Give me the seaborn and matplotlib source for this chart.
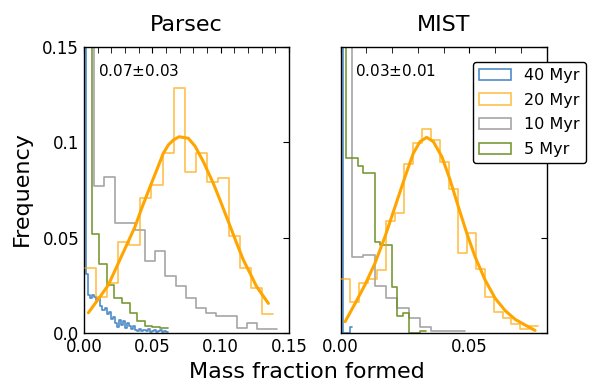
import numpy as np
import pandas as pd
import seaborn as sns
import matplotlib.pyplot as plt
from matplotlib.patches import Patch
from matplotlib.ticker import MultipleLocator

# Parsec histograms (fraction per bin), bin ranges
parsec_40_range = (0.0, 0.0615)
parsec_40 = [0.7225, 0.031, 0.020, 0.018, 0.020, 0.019, 0.017, 0.0185, 0.014, 0.012,
             0.013, 0.010, 0.011, 0.007, 0.008, 0.005, 0.003, 0.0065, 0.004, 0.006,
             0.0025, 0.005, 0.0035, 0.002, 0.0035, 0.0015, 0.001, 0.002, 0.001, 0.0015,
             0.001, 0.002, 0.0005, 0.001, 0.0015, 0.0005, 0.001, 0.0015, 0.0005, 0.001,
             0.0005]
parsec_20_range = (0.0007, 0.1385)
parsec_20 = [0.0338, 0.0189, 0.026, 0.0478, 0.0461, 0.0706, 0.0776, 0.0946, 0.1284,
             0.0846, 0.0946, 0.0794, 0.0811, 0.0508, 0.0338, 0.0233, 0.0098]
parsec_10_range = (0.0, 0.1415)
parsec_10 = [0.466, 0.077, 0.082, 0.0578, 0.0578, 0.054, 0.0378, 0.0429, 0.030, 0.0245,
             0.0184, 0.013, 0.0102, 0.0088, 0.0088, 0.0026, 0.0049, 0.0018, 0.0018]
parsec_5_range = (0.0, 0.0612)
parsec_5 = [0.827, 0.052, 0.036, 0.025, 0.018, 0.0158, 0.0105, 0.0063, 0.0035, 0.003,
            0.0025]
parsec_fit_x = [0.0032, 0.0117, 0.0178, 0.0239, 0.0312, 0.0373, 0.0422, 0.0483, 0.0532,
                0.0580, 0.0617, 0.0654, 0.0695, 0.0763, 0.0812, 0.0873, 0.0946, 0.0995,
                0.1056, 0.1117, 0.1166, 0.1215, 0.1263, 0.1349]
parsec_fit_y = [0.0105, 0.0189, 0.0251, 0.0347, 0.0461, 0.0557, 0.0654, 0.0767, 0.0855,
                0.0943, 0.0987, 0.1013, 0.1030, 0.1022, 0.0981, 0.0899, 0.0785, 0.0697,
                0.0584, 0.0470, 0.0382, 0.0312, 0.0242, 0.0154]

# MIST histograms
mist_40_range = (0.0, 0.0045)
mist_40 = [0.9972, 0.0, 0.0, 0.0, 0.0028]
mist_20_range = (0.0001, 0.0768)
mist_20 = [0.0281, 0.0163, 0.026, 0.0281, 0.033, 0.0587, 0.0627, 0.0887, 0.0995, 0.1069,
           0.1013, 0.0899, 0.0754, 0.042, 0.0526, 0.0333, 0.019, 0.011, 0.0075, 0.0045,
           0.002, 0.0035]
mist_10_range = (0.0, 0.0484)
mist_10 = [0.85, 0.040, 0.041, 0.0245, 0.0181, 0.0128, 0.0076, 0.0028, 0.001, 0.001, 0.001]
mist_5_range = (0.0, 0.033)
mist_5 = [0.3775, 0.0917, 0.0917, 0.0876, 0.0838, 0.0838, 0.0478, 0.046, 0.046, 0.0238,
          0.0088, 0.0105, 0.0, 0.0, 0.001]
mist_fit_x = [0.0017, 0.0056, 0.0094, 0.0133, 0.0172, 0.0211, 0.025, 0.0282, 0.0308,
              0.0334, 0.036, 0.0393, 0.0425, 0.0457, 0.049, 0.0522, 0.0561, 0.06, 0.0639,
              0.0678, 0.0717, 0.0755]
mist_fit_y = [0.0058, 0.0154, 0.0251, 0.0365, 0.0505, 0.0662, 0.082, 0.0943, 0.1004,
              0.1027, 0.1004, 0.0925, 0.0803, 0.0662, 0.0522, 0.0399, 0.0277, 0.0181,
              0.0116, 0.007, 0.004, 0.0012]

labels = ['40 Myr', '20 Myr', '10 Myr', '5 Myr']
colors = ['#2f78c0', 'orange', 'grey', 'olivedrab']
alphas = [0.85, 0.7, 0.7, 0.9]

sns.set_style('white')
plt.rcParams.update({
    'font.family': ['DejaVu Sans'],
    'text.color': 'black', 'axes.labelcolor': 'black',
    'xtick.direction': 'in', 'ytick.direction': 'in',
    'xtick.top': True, 'ytick.right': True,
    'xtick.major.size': 4, 'xtick.minor.size': 4, 'ytick.major.size': 4,
    'xtick.labelsize': 12, 'ytick.labelsize': 12,
    'axes.edgecolor': 'black', 'axes.linewidth': 1.0,
    'xtick.color': 'black', 'ytick.color': 'black',
})


def step_hist(ax, rng, heights, color, alpha, order):
    edges = np.linspace(rng[0], rng[1], len(heights) + 1).tolist()
    centers = [(lo + hi) / 2 for lo, hi in zip(edges[:-1], edges[1:])]
    df = pd.DataFrame({'x': centers, 'w': heights})
    sns.histplot(data=df, x='x', weights='w', bins=edges, stat='count',
                 element='step', fill=False, color=color, alpha=alpha,
                 linewidth=1.2, ax=ax, zorder=order)


fig = plt.figure(figsize=(5.9, 3.85), dpi=100)
ax1 = fig.add_axes([0.1424, 0.1358, 0.3475, 0.7413])
ax2 = fig.add_axes([0.5775, 0.1358, 0.349, 0.7413])

panels = [
    (ax1, [(parsec_40_range, parsec_40), (parsec_20_range, parsec_20),
           (parsec_10_range, parsec_10), (parsec_5_range, parsec_5)],
     parsec_fit_x, parsec_fit_y, 'Parsec', '0.07$\\pm$0.03', 0.15),
    (ax2, [(mist_40_range, mist_40), (mist_20_range, mist_20),
           (mist_10_range, mist_10), (mist_5_range, mist_5)],
     mist_fit_x, mist_fit_y, 'MIST', '0.03$\\pm$0.01', 0.08),
]

zorders = [2, 3, 2, 2]
for ax, hists, fx, fy, title, note, xmax in panels:
    for (rng, h), c, a, z in zip(hists, colors, alphas, zorders):
        step_hist(ax, rng, h, c, a, z)
    sns.lineplot(x=fx, y=fy, color='orange', linewidth=2.2, sort=False,
                 estimator=None, ax=ax, zorder=4)
    ax.set_xlim(0, xmax)
    ax.set_ylim(0, 0.15)
    ax.xaxis.set_major_locator(MultipleLocator(0.05))
    ax.xaxis.set_minor_locator(MultipleLocator(0.01))
    ax.set_yticks([0.0, 0.05, 0.1, 0.15])
    ax.set_xlabel('')
    ax.set_ylabel('')
    ax.set_title(title, fontsize=16, pad=12)
    ax.text(0.07, 0.945, note, transform=ax.transAxes, ha='left', va='top',
            fontsize=11)
    ax.tick_params(which='both', direction='in', top=True, right=True)

ax1.set_yticklabels(['0.0', '0.05', '0.1', '0.15'])
ax2.set_yticklabels([])

handles = [Patch(facecolor='none', edgecolor=c, alpha=a, linewidth=1.2)
           for c, a in zip(colors, alphas)]
leg = ax2.legend(handles, labels, loc='upper left', bbox_to_anchor=(0.641, 0.95),
                 borderaxespad=0, fontsize=11.5, frameon=True, fancybox=True,
                 framealpha=1, edgecolor='black', borderpad=0.4, handlelength=2.0,
                 labelspacing=0.6)
leg.get_frame().set_linewidth(1.0)

fig.text(0.52, 0.033, 'Mass fraction formed', ha='center', va='center', fontsize=16)
fig.text(0.037, 0.509, 'Frequency', ha='center', va='center', rotation=90,
         fontsize=16)

fig.savefig('out.png', dpi=100)
